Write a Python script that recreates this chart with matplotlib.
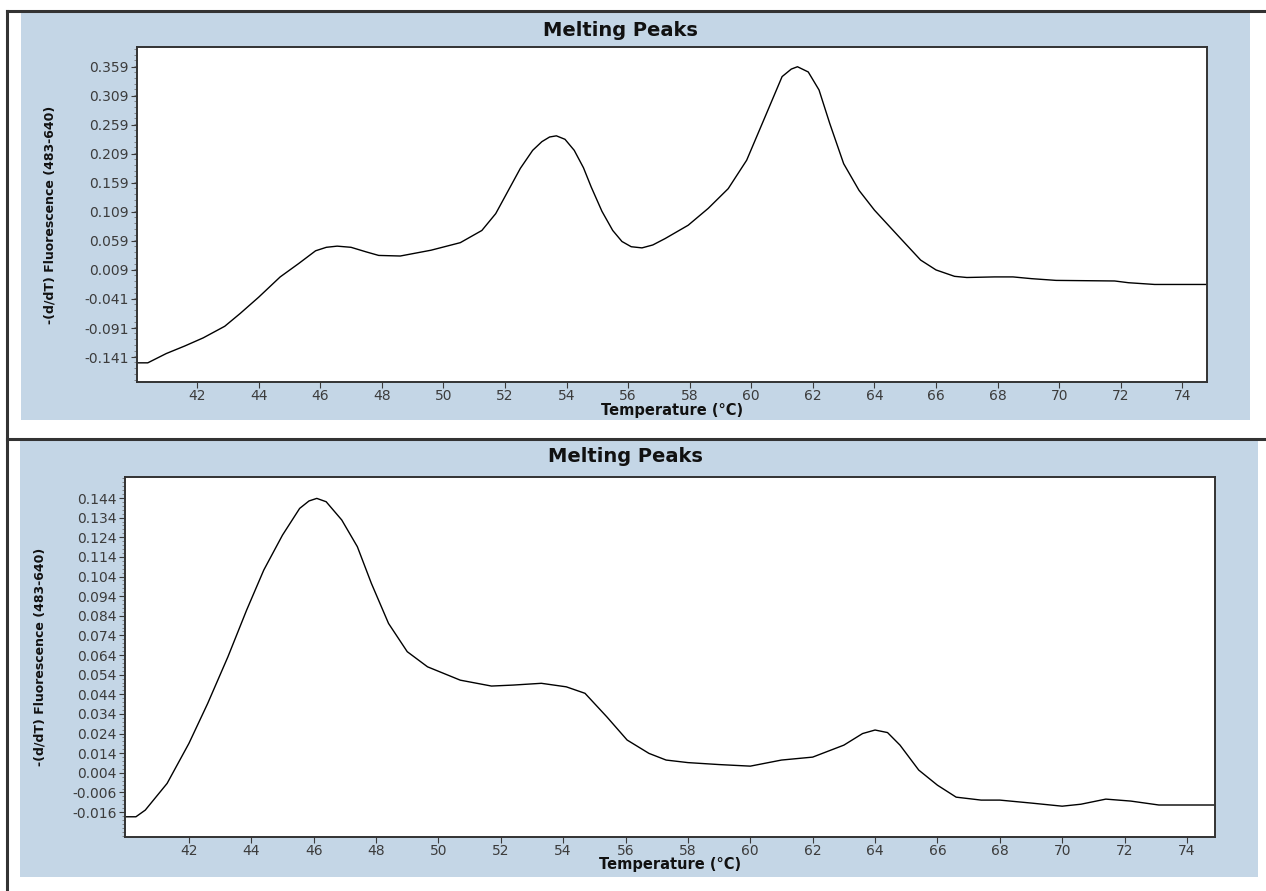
import matplotlib
matplotlib.use("Agg")
import matplotlib.pyplot as plt
from matplotlib.patches import Rectangle
from matplotlib.lines import Line2D
from matplotlib.ticker import MultipleLocator, FixedLocator

# ---------------- data ----------------
title_text = "Melting Peaks"
xlabel_text = "Temperature (°C)"
ylabel_text = "-(d/dT) Fluorescence (483-640)"

x_ticks = [42, 44, 46, 48, 50, 52, 54, 56, 58, 60, 62, 64, 66, 68, 70, 72, 74]

top_yticks = [-0.141, -0.091, -0.041, 0.009, 0.059, 0.109, 0.159, 0.209, 0.259, 0.309, 0.359]
bot_yticks = [-0.016, -0.006, 0.004, 0.014, 0.024, 0.034, 0.044, 0.054, 0.064, 0.074,
              0.084, 0.094, 0.104, 0.114, 0.124, 0.134, 0.144]

top_temp = [40.05, 40.4, 41.0, 41.6, 42.2, 42.9, 43.4, 44.0, 44.7, 45.3, 45.85, 46.2, 46.55,
            47.0, 47.5, 47.9, 48.6, 49.6, 50.55, 51.25, 51.7, 52.1, 52.5, 52.9, 53.2, 53.45,
            53.67, 53.95, 54.25, 54.55, 54.8, 55.15, 55.5, 55.8, 56.1, 56.45, 56.8, 57.2,
            57.95, 58.6, 59.25, 59.85, 60.45, 61.0, 61.3, 61.5, 61.85, 62.2, 62.55, 63.0,
            63.5, 64.0, 64.8, 65.5, 66.0, 66.6, 67.0, 67.9, 68.5, 69.1, 69.9, 71.8, 72.25,
            73.1, 74.8]
top_val = [-0.151, -0.151, -0.135, -0.122, -0.108, -0.088, -0.066, -0.038, -0.003, 0.020,
           0.042, 0.048, 0.050, 0.048, 0.040, 0.034, 0.033, 0.043, 0.056, 0.077, 0.106,
           0.145, 0.184, 0.215, 0.230, 0.238, 0.240, 0.234, 0.215, 0.185, 0.152, 0.110,
           0.077, 0.058, 0.049, 0.047, 0.052, 0.063, 0.086, 0.115, 0.149, 0.198, 0.273,
           0.342, 0.355, 0.359, 0.350, 0.319, 0.261, 0.192, 0.146, 0.112, 0.066, 0.026,
           0.009, -0.002, -0.004, -0.003, -0.003, -0.006, -0.009, -0.010, -0.013, -0.016,
           -0.016]

bot_temp = [40.0, 40.3, 40.6, 41.3, 42.0, 42.6, 43.25, 43.85, 44.4, 45.0, 45.55, 45.85, 46.1,
            46.4, 46.9, 47.4, 47.85, 48.4, 49.0, 49.65, 50.7, 51.7, 52.4, 53.3, 54.1, 54.7,
            55.4, 56.05, 56.75, 57.3, 58.0, 59.0, 60.0, 61.0, 62.0, 63.0, 63.6, 64.0, 64.4,
            64.8, 65.4, 66.0, 66.6, 67.4, 68.0, 69.0, 70.0, 70.6, 71.4, 72.2, 73.1, 74.9]
bot_val = [-0.0184, -0.0184, -0.015, -0.0014, 0.019, 0.0393, 0.0631, 0.0869, 0.1073, 0.1251,
           0.1387, 0.1425, 0.1438, 0.1421, 0.1328, 0.1192, 0.1005, 0.0801, 0.0657, 0.0580,
           0.0512, 0.0482, 0.0487, 0.0496, 0.0478, 0.0445, 0.0325, 0.0207, 0.0139, 0.0105,
           0.0092, 0.0082, 0.0074, 0.0105, 0.0120, 0.0181, 0.0240, 0.0258, 0.0245, 0.0181,
           0.0054, -0.0023, -0.0084, -0.0099, -0.0099, -0.0114, -0.0130, -0.0120, -0.0094,
           -0.0104, -0.0124, -0.0124]

# ---------------- layout helpers ----------------
W, H = 1266, 891
fig = plt.figure(figsize=(W / 100, H / 100), dpi=100)
fig.patch.set_facecolor("white")

BLUE = "#c4d6e6"
BORDER = "#333333"
TICKC = "#3a3a3a"


def frac_rect(x0, y0, x1, y1):
    return [x0 / W, 1 - y1 / H, (x1 - x0) / W, (y1 - y0) / H]


# blue panels (behind axes)
for (x0, y0, x1, y1) in [(21, 13, 1250, 420), (20, 440, 1258, 877)]:
    fig.patches.append(Rectangle((x0 / W, 1 - y1 / H), (x1 - x0) / W, (y1 - y0) / H,
                                 transform=fig.transFigure, facecolor=BLUE,
                                 edgecolor="none", zorder=-5))

# table-like borders
for (xa, ya, xb, yb) in [(7, 11, 1266, 11), (7, 439, 1266, 439), (7, 11, 7, 891)]:
    fig.lines.append(Line2D([xa / W, xb / W], [1 - ya / H, 1 - yb / H],
                            transform=fig.transFigure, color=BORDER, lw=2.2, zorder=-4))


def make_panel(rect, temps, vals, yticks, ylim, xlim, minor_step, title_xy, ylabel_x, xlabel_y):
    ax = fig.add_axes(frac_rect(*rect))
    ax.set_zorder(2)
    ax.set_facecolor("white")
    ax.plot(temps, vals, color="black", lw=1.0, solid_joinstyle="round")
    ax.set_xlim(*xlim)
    ax.set_ylim(*ylim)
    ax.xaxis.set_major_locator(FixedLocator(x_ticks))
    ax.set_xticklabels([str(t) for t in x_ticks])
    ax.yaxis.set_major_locator(FixedLocator(yticks))
    ax.set_yticklabels([f"{v:.3f}" for v in yticks])
    ax.yaxis.set_minor_locator(MultipleLocator(minor_step))
    ax.tick_params(axis="both", which="major", direction="out", length=4, width=0.8,
                   colors=TICKC, labelsize=10, pad=2)
    ax.tick_params(axis="y", which="minor", direction="out", length=2, width=0.6,
                   colors="#777777")
    ax.tick_params(axis="x", which="major", pad=1)
    for lab in ax.get_xticklabels() + ax.get_yticklabels():
        lab.set_color("#3c3c3c")
    for sp in ax.spines.values():
        sp.set_color(BORDER)
        sp.set_linewidth(1.4)
    cx = (rect[0] + rect[2]) / 2
    fig.text(title_xy[0] / W, 1 - title_xy[1] / H, title_text, ha="center", va="center",
             fontsize=14, fontweight="heavy", color="#111111")
    fig.text(ylabel_x / W, 1 - ((rect[1] + rect[3]) / 2) / H, ylabel_text,
             rotation=90, ha="center", va="center", fontsize=9, fontweight="bold",
             color="#111111")
    fig.text(cx / W, 1 - xlabel_y / H, xlabel_text, ha="center", va="center",
             fontsize=10.5, fontweight="bold", color="#111111")
    return ax


make_panel((137, 47, 1207, 382), top_temp, top_val, top_yticks, (-0.184, 0.393),
           (40.05, 74.8), 0.01, (620, 30), 50, 410)
make_panel((125, 477, 1215, 837), bot_temp, bot_val, bot_yticks, (-0.0287, 0.1547),
           (39.95, 74.9), 0.002, (625, 457), 40, 864)

fig.savefig("out.png", dpi=100, facecolor="white")
